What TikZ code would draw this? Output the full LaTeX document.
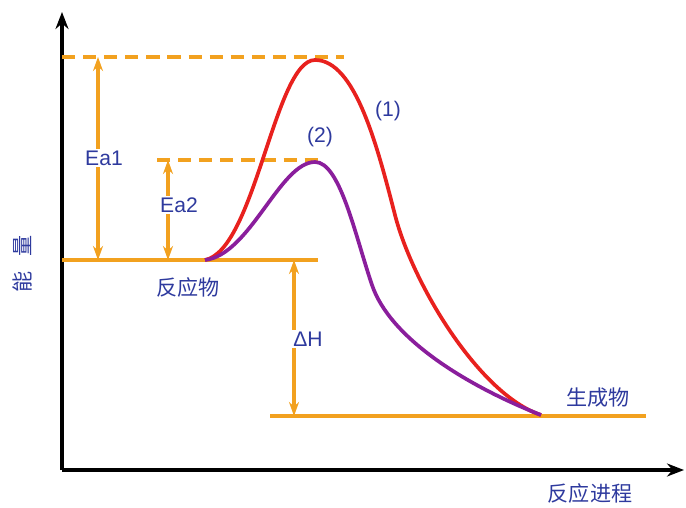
\documentclass[tikz,border=0pt]{standalone}
\usepackage{fontspec}
\setmainfont{Liberation Sans}
\newfontfamily\cjk{Noto Sans CJK SC}
\usepackage{tikz}
\usetikzlibrary{arrows.meta}
\definecolor{lvlorange}{HTML}{F2A11F}
\definecolor{curvered}{HTML}{E8211E}
\definecolor{curvepurple}{HTML}{8A1E9C}
\definecolor{txtblue}{HTML}{2E3A9E}

\begin{document}
\begin{tikzpicture}[
  x=0.02cm,y=-0.02cm,
  lvl/.style={draw=lvlorange,line width=2.1pt},
  dsh/.style={lvl,dash pattern=on 7.5pt off 4.5pt},
  dim/.style={{Stealth[length=2.8mm,width=2mm]}-{Stealth[length=2.8mm,width=2mm]},draw=lvlorange,line width=1.9pt},
  lab/.style={text=txtblue,font=\fontsize{12}{14}\selectfont,inner sep=1pt},
  cn/.style={lab,font=\cjk\fontsize{12}{14}\selectfont},
  ax/.style={-{Stealth[length=3.4mm,width=2.6mm]},line width=2.2pt},
  crv/.style={line width=2.1pt}
]
\useasboundingbox (0,0) rectangle (686,507);
% axes
\coordinate (o) at (62,470);
\coordinate (ytop) at (62,12);
\coordinate (xend) at (684,470);
\draw[ax] (o) -- (ytop);
\draw[ax] (o) -- (xend);
\node[cn,rotate=90] (en) at (22,264) {能\hspace{8pt}量};
\node[cn] (prog) at (590,493) {反应进程};
% energy levels
\coordinate (r0) at (62,260);  \coordinate (r1) at (318,260);
\coordinate (p0) at (270,416); \coordinate (p1) at (646,416);
\coordinate (t0) at (62,57);   \coordinate (t1) at (344,57);
\coordinate (c0) at (157,160); \coordinate (c1) at (324,160);
\draw[lvl] (r0) -- (r1);
\draw[lvl] (p0) -- (p1);
\draw[dsh] (t0) -- (t1);
\draw[dsh] (c0) -- (c1);
\node[cn] (react) at (188,287) {反应物};
\node[cn] (prod) at (598,398) {生成物};
% curves
\coordinate (s) at (205,260);
\coordinate (e) at (541,415);
\draw[curvered,crv] (s) .. controls (255,250) and (275,60) .. (315,60)
  .. controls (355,60) and (377,145) .. (395,215)
  .. controls (413,285) and (480,395) .. (e);
\draw[curvepurple,crv] (s) .. controls (250,255) and (280,162) .. (315,162)
  .. controls (340,162) and (355,235) .. (372,285)
  .. controls (390,338) and (465,385) .. (e);
\node[lab] (one) at (388,111) {(1)};
\node[lab] (two) at (320,137) {(2)};
% dimension arrows
\coordinate (a1t) at (98,57);   \coordinate (a1b) at (98,260);
\coordinate (a2t) at (168,160); \coordinate (a2b) at (168,260);
\coordinate (hht) at (294,260); \coordinate (hhb) at (294,416);
\draw[dim] (a1t) -- (a1b);
\draw[dim] (a2t) -- (a2b);
\draw[dim] (hht) -- (hhb);
\node[lab,fill=white] (ea1) at (104,158) {Ea1};
\node[lab,fill=white] (ea2) at (179,205) {Ea2};
\node[lab,fill=white] (dh) at (308,339) {ΔH};
\end{tikzpicture}
\end{document}
